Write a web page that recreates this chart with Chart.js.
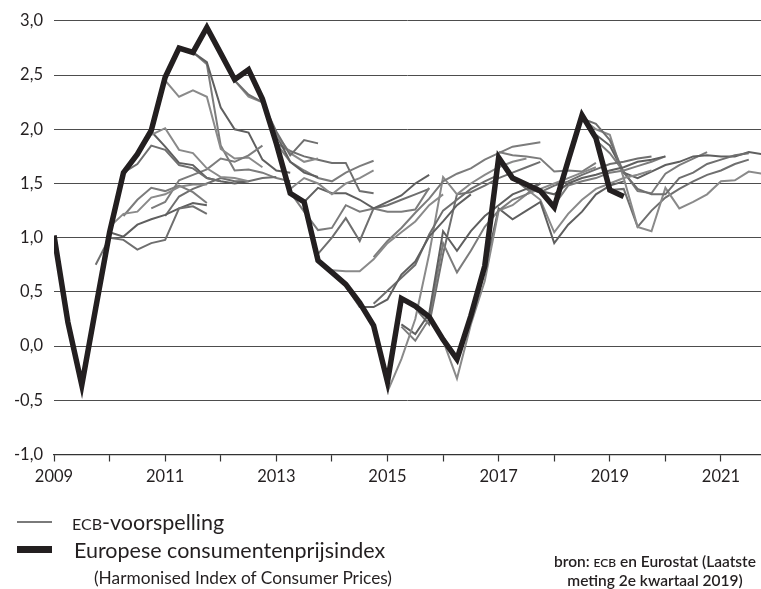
<!DOCTYPE html>
<html>
<head>
<meta charset="utf-8">
<script src="https://cdn.jsdelivr.net/npm/chart.js@4.4.0/dist/chart.umd.min.js"></script>
<style>
  body { margin: 0; background: #fff; width: 761px; height: 589px; overflow: hidden; position: relative;
         font-family: Lato, "Open Sans", sans-serif; color: #231f20; }
  #wrap { position: absolute; left: 0; top: 0; width: 761px; height: 589px; }
  .key { position: absolute; }
  .txt { position: absolute; white-space: nowrap; font-size: 21.5px; line-height: 24px; }
  .txt.small { font-size: 17.3px; line-height: 20px; }
  .sc { font-size: 16px; }
  .src { position: absolute; left: 525px; top: 553px; width: 260px; text-align: center; font-size: 15.5px;
         line-height: 16.5px; font-weight: 600; white-space: nowrap; }
  .src .sc { font-size: 12px; }
</style>
</head>
<body>
<div id="wrap"><canvas id="inflationChart"></canvas></div>

<div class="key" style="left:17px;top:521px;width:35px;height:2px;background:#7a7a7a"></div>
<div class="txt" style="left:72px;top:510px"><span class="sc">ECB</span>-voorspelling</div>
<div class="key" style="left:17px;top:546px;width:35px;height:7px;background:#231f20"></div>
<div class="txt" style="left:74px;top:538px">Europese consumentenprijsindex</div>
<div class="txt small" style="left:94px;top:568px">(Harmonised Index of Consumer Prices)</div>
<div class="src">bron: <span class="sc">ECB</span> en Eurostat (Laatste<br>meting 2e kwartaal 2019)</div>

<script>
// HICP, year-on-year %, one value per quarter starting 2009 Q1
const hicpStart = 2009;
const hicp = [
    1.02, 0.22, -0.36, 0.35,
    1.05, 1.60, 1.77, 1.99,
    2.48, 2.75, 2.71, 2.94,
    2.70, 2.46, 2.55, 2.28,
    1.87, 1.41, 1.33, 0.79,
    0.68, 0.57, 0.40, 0.19,
    -0.33, 0.44, 0.37, 0.27,
    0.06, -0.12, 0.28, 0.74,
    1.74, 1.55, 1.49, 1.43,
    1.28, 1.71, 2.13, 1.92,
    1.44, 1.38
];

// ECB projections: first quarter of each path, then quarterly values
const forecastStarts = [
    2009.75, 2010.0, 2010.0, 2010.25, 2010.25, 2010.5, 2010.75, 2010.75, 2011.0, 2011.0,
    2011.5, 2011.5, 2011.75, 2012.0, 2012.25, 2013.0, 2013.0, 2013.25, 2013.5, 2013.25,
    2013.75, 2014.0, 2014.25, 2014.75, 2014.75, 2015.0, 2015.25, 2015.25, 2015.5, 2016.0,
    2016.25, 2017.0, 2017.25, 2017.5, 2017.75, 2018.0, 2018.5, 2018.5, 2018.75, 2018.75,
    2019.0
];
const forecasts = [
    [0.75, 1.00, 0.98, 0.89, 0.95, 0.98, 1.27, 1.29, 1.22],
    [1.10, 1.22, 1.24, 1.37, 1.40, 1.47, 1.49, 1.49],
    [1.05, 1.01, 1.12, 1.17, 1.21, 1.27, 1.32, 1.30],
    [1.20, 1.35, 1.46, 1.43, 1.48, 1.42, 1.32],
    [1.60, 1.68, 1.85, 1.81, 1.67, 1.64, 1.55, 1.52],
    [1.77, 1.95, 2.01, 1.81, 1.78, 1.64, 1.56, 1.55, 1.52],
    [1.98, 1.84, 1.69, 1.67, 1.55, 1.52, 1.50, 1.52],
    [1.27, 1.33, 1.53, 1.58, 1.63, 1.73, 1.70, 1.76, 1.85],
    [1.20, 1.38, 1.45, 1.50, 1.55, 1.52, 1.52, 1.55, 1.56],
    [2.45, 2.30, 2.36, 2.30, 1.82, 1.73, 1.74, 1.65],
    [2.71, 2.62, 2.20, 2.00, 1.97, 1.72, 1.62, 1.60],
    [2.71, 2.60, 1.85, 1.62, 1.63, 1.60, 1.55, 1.52],
    [2.92, 2.68, 2.45, 2.32, 2.25, 1.98, 1.76, 1.90, 1.87],
    [2.70, 2.45, 2.30, 2.25, 1.95, 1.78, 1.70, 1.73],
    [2.45, 2.55, 2.25, 1.95, 1.70, 1.60, 1.56],
    [1.87, 1.70, 1.62, 1.55, 1.52, 1.60, 1.66, 1.71],
    [1.87, 1.80, 1.75, 1.72, 1.69, 1.69, 1.43, 1.41],
    [1.45, 1.55, 1.50, 1.40, 1.50, 1.55, 1.62],
    [1.33, 1.46, 1.41, 1.41, 1.35, 1.27, 1.33, 1.39, 1.50, 1.58],
    [1.42, 1.24, 1.07, 1.09, 1.30, 1.24, 1.27, 1.24, 1.24, 1.26, 1.46],
    [0.85, 1.00, 1.18, 0.97, 1.27, 1.30, 1.35, 1.40, 1.45],
    [0.70, 0.69, 0.69, 0.80, 0.95, 1.05, 1.15, 1.30, 1.40],
    [0.55, 0.36, 0.36, 0.43, 0.66, 0.78, 1.01, 1.15, 1.30, 1.40],
    [0.82, 0.97, 1.09, 1.23, 1.36, 1.52, 1.59, 1.64, 1.72, 1.78, 1.84, 1.86, 1.88],
    [0.39, 0.51, 0.63, 0.75, 1.03, 1.25, 1.35, 1.45, 1.52, 1.58],
    [-0.42, -0.12, 0.25, 0.85, 1.56, 1.40, 1.50, 1.58, 1.65, 1.70, 1.73],
    [0.20, 0.11, 0.30, 1.06, 0.88, 1.06, 1.20, 1.30, 1.40, 1.45, 1.50],
    [0.18, 0.05, 0.25, 0.95, 0.68, 0.88, 1.10, 1.25, 1.35, 1.40, 1.50],
    [0.35, 0.20, 0.85, 1.40, 1.42, 1.48, 1.55, 1.60, 1.65, 1.70],
    [0.05, -0.30, 0.20, 0.60, 1.25, 1.30, 1.40, 1.45, 1.50, 1.55, 1.60, 1.65],
    [-0.10, 0.25, 0.70, 1.27, 1.17, 1.25, 1.33, 0.95, 1.12, 1.24, 1.40, 1.48, 1.52],
    [1.79, 1.76, 1.75, 1.73, 1.61, 1.62, 1.61, 1.69],
    [1.55, 1.45, 1.42, 1.48, 1.52, 1.58, 1.63, 1.68, 1.70, 1.73, 1.75],
    [1.45, 1.35, 1.05, 1.22, 1.35, 1.45, 1.50, 1.55, 1.58, 1.62],
    [1.43, 1.40, 1.50, 1.55, 1.58, 1.62, 1.65, 1.70, 1.72, 1.75],
    [1.30, 1.48, 1.52, 1.55, 1.60, 1.62, 1.66, 1.70, 1.75],
    [2.10, 2.05, 1.90, 1.60, 1.45, 1.40, 1.40, 1.55, 1.60, 1.68, 1.72, 1.76, 1.78],
    [2.10, 2.00, 1.95, 1.55, 1.10, 1.06, 1.46, 1.27, 1.33, 1.40, 1.52, 1.53, 1.61, 1.59],
    [1.95, 1.85, 1.60, 1.55, 1.61, 1.67, 1.70, 1.75, 1.76, 1.75, 1.75, 1.79, 1.77],
    [1.90, 1.78, 1.61, 1.43, 1.41, 1.59, 1.67, 1.73, 1.79],
    [1.44, 1.45, 1.10, 1.25, 1.37, 1.45, 1.52, 1.58, 1.62, 1.68, 1.72]
];

const yTicks = [-1, -0.5, 0, 0.5, 1, 1.5, 2, 2.5, 3];
const xMin = 2009, xMax = 2021.72;

function toPoints(start, values) {
    return values.map((v, i) => ({ x: start + i * 0.25, y: v }));
}

const greys = ['#6f6f6f', '#8a8a8a', '#5f5f5f', '#7c7c7c'];
const datasets = forecasts.map((vals, i) => ({
    data: toPoints(forecastStarts[i], vals),
    borderColor: greys[i % greys.length],
    borderWidth: 2,
    pointRadius: 0,
    order: 1
}));
datasets.push({
    data: toPoints(hicpStart, hicp),
    borderColor: '#231f20',
    borderWidth: 5.5,
    borderJoinStyle: 'miter',
    pointRadius: 0,
    order: 0
});

const tickFont = { family: 'Lato, "Open Sans", sans-serif', size: 16.5 };

new Chart(document.getElementById('inflationChart'), {
    type: 'line',
    data: { datasets: datasets },
    options: {
        responsive: true,
        maintainAspectRatio: false,
        animation: false,
        layout: { padding: { top: 18, right: 0, left: 0, bottom: 104.5 } },
        plugins: { legend: { display: false }, tooltip: { enabled: false } },
        scales: {
            x: {
                type: 'linear',
                min: xMin,
                max: xMax,
                afterFit: s => { s.height = 30; },
                border: { display: true, color: '#333', width: 1.2 },
                grid: { drawOnChartArea: false, drawTicks: true, tickLength: 7, tickColor: '#333', tickWidth: 1.2 },
                ticks: {
                    stepSize: 1,
                    includeBounds: false,
                    autoSkip: false,
                    maxRotation: 0,
                    padding: 5,
                    color: '#231f20',
                    font: tickFont,
                    callback: v => ((v - 2009) % 2 === 0 ? String(v) : '')
                }
            },
            y: {
                min: -1,
                max: 3,
                afterFit: s => { s.width = 54; },
                afterBuildTicks: s => { s.ticks = yTicks.map(v => ({ value: v })); },
                border: { display: false },
                grid: { color: '#4d4d4d', lineWidth: 1, drawTicks: false },
                ticks: {
                    padding: 11,
                    color: '#231f20',
                    font: tickFont,
                    callback: v => v.toFixed(1).replace('.', ',')
                }
            }
        }
    }
});
</script>
</body>
</html>
